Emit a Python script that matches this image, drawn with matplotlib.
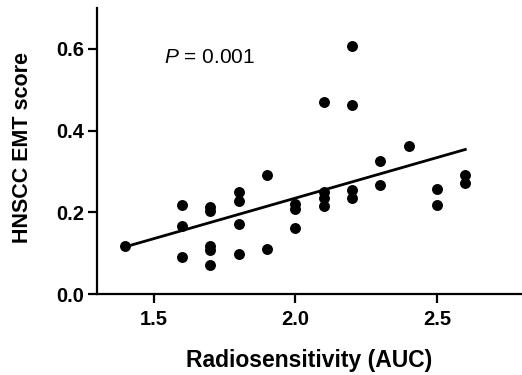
import numpy as np
import matplotlib
matplotlib.use("Agg")
import matplotlib.pyplot as plt

plt.rcParams['font.family'] = ['Liberation Sans', 'DejaVu Sans']
plt.rcParams['mathtext.fontset'] = 'custom'
plt.rcParams['mathtext.it'] = 'Liberation Sans:italic'
plt.rcParams['mathtext.rm'] = 'Liberation Sans'

# Data
auc = [1.4,
       1.6, 1.6, 1.6,
       1.7, 1.7, 1.7, 1.7, 1.7,
       1.8, 1.8, 1.8, 1.8,
       1.9, 1.9,
       2.0, 2.0, 2.0,
       2.1, 2.1, 2.1, 2.1,
       2.2, 2.2, 2.2, 2.2,
       2.3, 2.3,
       2.4,
       2.5, 2.5,
       2.6, 2.6]
emt = [0.117,
       0.218, 0.166, 0.091,
       0.212, 0.203, 0.117, 0.107, 0.070,
       0.250, 0.228, 0.172, 0.097,
       0.292, 0.109,
       0.220, 0.209, 0.162,
       0.470, 0.250, 0.234, 0.216,
       0.607, 0.463, 0.255, 0.235,
       0.325, 0.267,
       0.362,
       0.257, 0.219,
       0.291, 0.272]
fit_x = [1.4, 2.6]
x_ticks = [1.5, 2.0, 2.5]
y_ticks = [0.0, 0.2, 0.4, 0.6]

fig = plt.figure(figsize=(5.22, 3.75), dpi=100)
ax = fig.add_axes([97/522, 81/375, 1 - 97/522, (294 - 8)/375])

ax.scatter(auc, emt, s=62, color='black', zorder=3, linewidths=0)
slope, intercept = np.polyfit(auc, emt, 1)
fx = np.array(fit_x)
ax.plot(fx, slope * fx + intercept, color='black', lw=2.0, zorder=2)

ax.set_xlim(1.3, 2.8)
ax.set_ylim(0.0, 0.70)
ax.set_xticks(x_ticks)
ax.set_xticklabels([f"{v:.1f}" for v in x_ticks])
ax.set_yticks(y_ticks)
ax.set_yticklabels([f"{v:.1f}" for v in y_ticks])

for side in ['top', 'right']:
    ax.spines[side].set_visible(False)
for side in ['left', 'bottom']:
    ax.spines[side].set_linewidth(1.6)
ax.tick_params(axis='both', which='major', length=6.5, width=1.6,
               labelsize=14.5, direction='out')
ax.tick_params(axis='x', pad=5)
ax.tick_params(axis='y', pad=3)
for lbl in ax.get_xticklabels() + ax.get_yticklabels():
    lbl.set_fontweight('bold')

ax.set_xlabel('Radiosensitivity (AUC)', fontsize=16.5, fontweight='bold',
              va='center')
ax.set_ylabel('HNSCC EMT score', fontsize=15.5, fontweight='bold',
              va='center')
ax.xaxis.set_label_coords((309 - 97) / (522 - 97), (294 - 360) / (294 - 8))
ax.yaxis.set_label_coords((22.6 - 97) / (522 - 97), (294 - 147.5) / (294 - 8))

ax.text(1.535, 0.58, r'$P$ = 0.001', fontsize=15, ha='left', va='center')

fig.savefig('out.png', dpi=100)
